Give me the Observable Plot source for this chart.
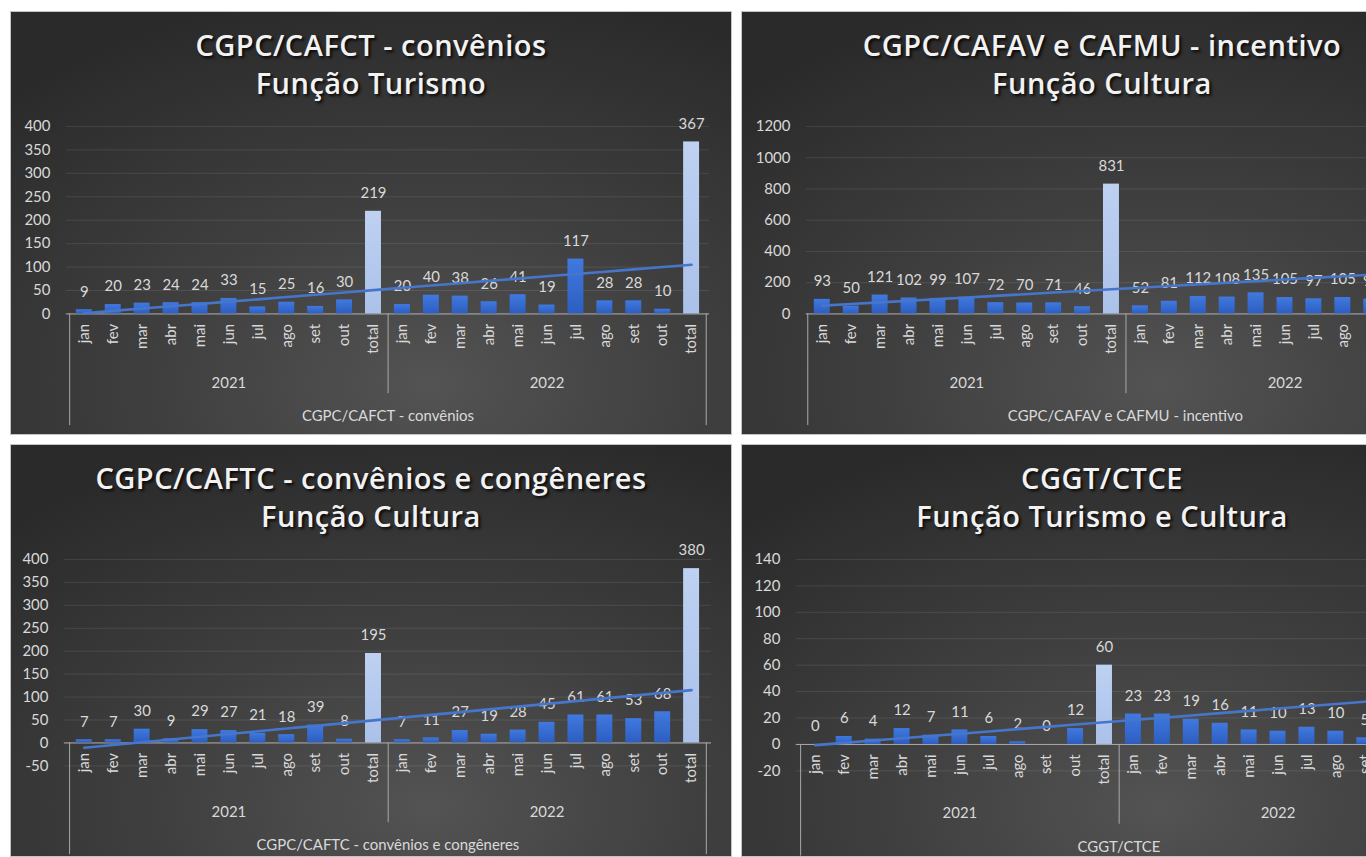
<!DOCTYPE html>
<html><head><meta charset="utf-8">
<script src="https://cdn.jsdelivr.net/npm/d3@7"></script>
<script src="https://cdn.jsdelivr.net/npm/@observablehq/plot@0.6"></script>
<style>
html,body{margin:0;padding:0;background:#fff;width:1366px;height:857px;overflow:hidden;position:relative;}
.panel{position:absolute;width:722px;box-sizing:border-box;border:1px solid #c4c4c4;overflow:hidden;
  background: radial-gradient(ellipse 85% 95% at 58% 88%, #535353 0%, #3f3f3f 45%, #2a2a2a 100%);}
.title{position:absolute;left:0;top:14px;width:100%;text-align:center;font-family:"Open Sans",sans-serif;font-weight:600;
  font-size:29px;line-height:38px;color:#f2f2f2;letter-spacing:0.5px;text-shadow:2px 2px 3px rgba(0,0,0,0.85);}
.panel svg{position:absolute;left:0;top:100px;overflow:visible;}
</style></head>
<body>
<script>
// ---- data ----
const months = ["jan","fev","mar","abr","mai","jun","jul","ago","set","out","total"];
const years = ["2021","2022"];
const cafctValues = [9,20,23,24,24,33,15,25,16,30,219, 20,40,38,26,41,19,117,28,28,10,367];
const cafavValues = [93,50,121,102,99,107,72,70,71,46,831, 52,81,112,108,135,105,97,105,95,70,960];
const caftcValues = [7,7,30,9,29,27,21,18,39,8,195, 7,11,27,19,28,45,61,61,53,68,380];
const ctceValues  = [0,6,4,12,7,11,6,2,0,12,60, 23,23,19,16,11,10,13,10,5,4,134];
const titleLines = [
  ["CGPC/CAFCT - convênios","Função Turismo"],
  ["CGPC/CAFAV e CAFMU - incentivo","Função Cultura"],
  ["CGPC/CAFTC - convênios e congêneres","Função Cultura"],
  ["CGGT/CTCE","Função Turismo e Cultura"]
];
const outerLabels = ["CGPC/CAFCT - convênios","CGPC/CAFAV e CAFMU - incentivo","CGPC/CAFTC - convênios e congêneres","CGGT/CTCE"];
const yTickValues = [
  [0,50,100,150,200,250,300,350,400],
  [0,200,400,600,800,1000,1200],
  [-50,0,50,100,150,200,250,300,350,400],
  [-20,0,20,40,60,80,100,120,140]
];
const seriesValues = [cafctValues, cafavValues, caftcValues, ctceValues];

// ---- layout (styles/positions only) ----
const layout = [
  {left:10,  top:11,  h:424, frameH:188, ml:55, mr:22},
  {left:741, top:11,  h:424, frameH:188, ml:64, mr:18},
  {left:10,  top:444, h:413, frameH:207, ml:53, mr:20},
  {left:741, top:444, h:413, frameH:212, ml:54, mr:21}
];

const keys = years.flatMap(y => months.map(m => `${y}|${m}`));

function trend(values) {
  const xs = d3.range(1, values.length + 1);
  const mx = d3.mean(xs), my = d3.mean(values);
  const b = d3.sum(xs, (x, i) => (x - mx) * (values[i] - my)) / d3.sum(xs, x => (x - mx) ** 2);
  return xs.map(x => my + b * (x - mx));
}

const txt = "#d9d9d9";
const lineCol = "#aaaaaa";

seriesValues.forEach((vals, p) => {
  const L = layout[p];
  const panel = document.createElement("div");
  panel.className = "panel";
  panel.style.left = L.left + "px";
  panel.style.top = L.top + "px";
  panel.style.height = L.h + "px";
  const t = document.createElement("div");
  t.className = "title";
  t.innerHTML = titleLines[p].map(s => `<div>${s}</div>`).join("");
  panel.appendChild(t);

  const tr = trend(vals);
  const rows = keys.map((k, i) => ({key: k, year: k.split("|")[0], month: k.split("|")[1], value: vals[i], trend: tr[i]}));
  const width = 722;
  const svgH = L.h - 100;
  const marginTop = 14;
  const marginBottom = svgH - marginTop - L.frameH;
  const step = (width - L.ml - L.mr) / keys.length;

  const chart = Plot.plot({
    width, height: svgH,
    marginTop, marginBottom, marginLeft: L.ml, marginRight: L.mr,
    style: {background: "transparent", color: txt, fontFamily: "Lato, 'Open Sans', sans-serif", fontSize: "15px", overflow: "visible"},
    x: {domain: keys, paddingInner: 0.46, paddingOuter: 0.23, axis: null},
    y: {domain: d3.extent(yTickValues[p]), axis: null},
    marks: [
      Plot.ruleY(yTickValues[p], {stroke: "#ffffff", strokeOpacity: 0.1}),
      Plot.text(yTickValues[p], {y: d => d, text: d => String(d), frameAnchor: "left", textAnchor: "end", dx: -16, fill: txt, fontSize: 15}),
      Plot.ruleY([0], {stroke: lineCol}),
      Plot.barY(rows.filter(d => d.month !== "total"), {x: "key", y: "value", fill: "url(#barGrad)"}),
      Plot.barY(rows.filter(d => d.month === "total"), {x: "key", y: "value", fill: "url(#totGrad)"}),
      Plot.text(rows, {x: "key", y: "value", text: d => String(d.value), dy: -18, fill: txt, fontSize: 15}),
      Plot.line(rows, {x: "key", y: "trend", stroke: "#4676cc", strokeWidth: 2.6}),
      Plot.text(rows, {x: "key", y: () => 0, text: "month", rotate: -90, textAnchor: "end", dy: 10, fill: txt, fontSize: 15}),
      Plot.text(years, {x: d => `${d}|jun`, y: () => 0, text: d => d, dy: 69, fill: txt, fontSize: 15, letterSpacing: "1px"}),
      Plot.ruleX([`${years[0]}|total`], {x: d => d, y1: () => 0, y2: () => 0, insetBottom: -80, dx: step / 2, stroke: lineCol}),
      Plot.ruleX([keys[0]], {x: d => d, y1: () => 0, y2: () => 0, insetBottom: -112, dx: -step / 2, stroke: lineCol}),
      Plot.ruleX([keys[keys.length - 1]], {x: d => d, y1: () => 0, y2: () => 0, insetBottom: -112, dx: step / 2, stroke: lineCol}),
      Plot.text([outerLabels[p]], {y: () => 0, text: d => d, dy: 103, fill: txt, fontSize: 15})
    ]
  });
  chart.insertAdjacentHTML("afterbegin",
    `<defs>
      <linearGradient id="barGrad" x1="0" y1="0" x2="0" y2="1">
        <stop offset="0" stop-color="#4079e0"/><stop offset="1" stop-color="#2d5ec0"/>
      </linearGradient>
      <linearGradient id="totGrad" x1="0" y1="0" x2="0" y2="1">
        <stop offset="0" stop-color="#bed1f2"/><stop offset="1" stop-color="#aac1e9"/>
      </linearGradient>
    </defs>`);
  panel.appendChild(chart);
  document.body.appendChild(panel);
});
</script>
</body></html>
